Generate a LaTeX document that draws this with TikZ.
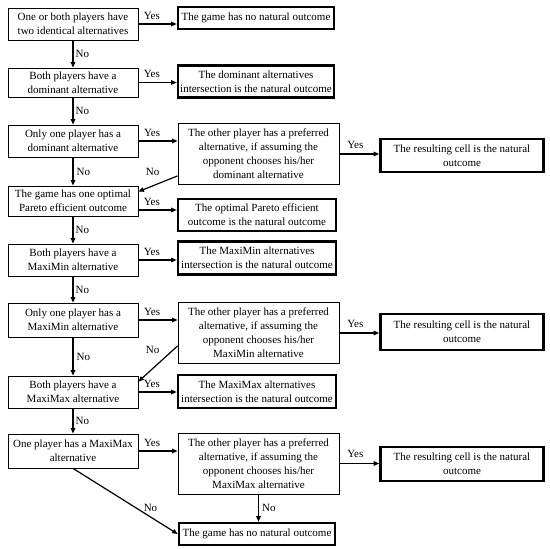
\documentclass[tikz,border=0pt]{standalone}
\usepackage{fontspec}
\setmainfont{Liberation Serif}
\usetikzlibrary{arrows.meta,calc}
\newcommand{\fsz}{\fontsize{11}{14}\selectfont}
\tikzset{
  qbox/.style={draw, line width=0.8pt, align=center, inner sep=0pt, font=\fsz},
  obox/.style={qbox, line width=2.6pt},
  arr/.style={line width=1.2pt, -{Triangle[length=5.5pt,width=4.5pt]}},
  lbl/.style={font=\fsz, inner sep=1pt}
}
\begin{document}
\begin{tikzpicture}[x=1pt,y=-1pt]
\useasboundingbox (0,0) rectangle (550,549);
% left column (x 8--138)
\node[qbox, minimum width=130, minimum height=32] (L1) at (73,24) {One or both players have\\two identical alternatives};
\node[qbox, minimum width=130, minimum height=29] (L2) at (73,82.5) {Both players have a\\dominant alternative};
\node[qbox, minimum width=130, minimum height=32] (L3) at (73,141) {Only one player has a\\dominant alternative};
\node[qbox, minimum width=130, minimum height=30] (L4) at (73,201) {The game has one optimal\\Pareto efficient outcome};
\node[qbox, minimum width=130, minimum height=32] (L5) at (73,260) {Both players have a\\MaxiMin alternative};
\node[qbox, minimum width=130, minimum height=34] (L6) at (73,320) {Only one player has a\\MaxiMin alternative};
\node[qbox, minimum width=130, minimum height=32] (L7) at (73,392) {Both players have a\\MaxiMax alternative};
\node[qbox, minimum width=130, minimum height=34] (L8) at (73,451) {One player has a MaxiMax\\alternative};
% outcomes (x 178--338)
\node[obox, minimum width=156, minimum height=22] (O1) at (256,18) {The game has no natural outcome};
\node[obox, minimum width=156, minimum height=32] (O2) at (256,81.5) {The dominant alternatives\\intersection is the natural outcome};
\node[obox, minimum width=158, minimum height=32] (O4) at (257,215) {The optimal Pareto efficient\\outcome is the natural outcome};
\node[obox, minimum width=158, minimum height=33] (O5) at (257,258) {The MaxiMin alternatives\\intersection is the natural outcome};
\node[obox, minimum width=158, minimum height=33] (O7) at (257,391.5) {The MaxiMax alternatives\\intersection is the natural outcome};
\node[obox, minimum width=156, minimum height=22] (F) at (257,534) {The game has no natural outcome};
% middle boxes
\node[qbox, minimum width=161, minimum height=61] (M3) at (258.5,154) {The other player has a preferred\\alternative, if assuming the\\opponent chooses his/her\\dominant alternative};
\node[qbox, minimum width=161, minimum height=61] (M6) at (258.5,333) {The other player has a preferred\\alternative, if assuming the\\opponent chooses his/her\\MaxiMin alternative};
\node[qbox, minimum width=161, minimum height=61] (M8) at (258.5,463.5) {The other player has a preferred\\alternative, if assuming the\\opponent chooses his/her\\MaxiMax alternative};
% right boxes (x 380--545)
\node[obox, minimum width=163, minimum height=33] (R3) at (462,155.5) {The resulting cell is the natural\\outcome};
\node[obox, minimum width=163, minimum height=36] (R6) at (462,332) {The resulting cell is the natural\\outcome};
\node[obox, minimum width=163, minimum height=34] (R8) at (462,464) {The resulting cell is the natural\\outcome};
% Yes arrows
\draw[arr] (L1.east) -- (L1.east -| O1.west) node[lbl, pos=0.35, above=3pt] {Yes};
\draw[arr] (L2.east) -- (L2.east -| O2.west) node[lbl, pos=0.35, above=3pt] {Yes};
\draw[arr] (L3.east) -- (L3.east -| M3.west) node[lbl, pos=0.35, above=3pt] {Yes};
\draw[arr] ([yshift=-9pt]L4.east) -- ([yshift=-9pt]L4.east -| O4.west) node[lbl, pos=0.35, above=3pt] {Yes};
\draw[arr] (L5.east) -- (L5.east -| O5.west) node[lbl, pos=0.35, above=3pt] {Yes};
\draw[arr] (L6.east) -- (L6.east -| M6.west) node[lbl, pos=0.35, above=3pt] {Yes};
\draw[arr] (L7.east) -- (L7.east -| O7.west) node[lbl, pos=0.35, above=3pt] {Yes};
\draw[arr] (L8.east) -- (L8.east -| M8.west) node[lbl, pos=0.35, above=3pt] {Yes};
\draw[arr] (M3.east) -- (M3.east -| R3.west) node[lbl, pos=0.4, above=4pt] {Yes};
\draw[arr] (M6.east) -- (M6.east -| R6.west) node[lbl, pos=0.4, above=4pt] {Yes};
\draw[arr] (M8.east) -- (M8.east -| R8.west) node[lbl, pos=0.4, above=4pt] {Yes};
% No arrows (vertical)
\draw[arr] (L1.south) -- (L2.north) node[lbl, midway, right=1pt] {No};
\draw[arr] (L2.south) -- (L3.north) node[lbl, midway, right=1pt] {No};
\draw[arr] (L3.south) -- (L4.north) node[lbl, midway, right=2pt] {No};
\draw[arr] (L4.south) -- (L5.north) node[lbl, midway, right=1pt] {No};
\draw[arr] (L5.south) -- (L6.north) node[lbl, midway, right=1pt] {No};
\draw[arr] (L6.south) -- (L7.north) node[lbl, midway, right=2pt] {No};
\draw[arr] (L7.south) -- (L8.north) node[lbl, midway, right=1pt] {No};
\draw[arr] (M8.south) -- (M8.south |- F.north) node[lbl, midway, right=2pt] {No};
% No arrows (diagonal)
\draw[arr] ([yshift=9pt]M3.south west) -- ([yshift=-6pt]L4.north east) node[lbl, at start, xshift=-25pt, yshift=4pt] {No};
\draw[arr] ([yshift=18pt]M6.south west) -- ([yshift=-6pt]L7.north east) node[lbl, at start, xshift=-25pt, yshift=-4pt] {No};
\draw[arr] (L8.south) -- (F.west) node[lbl, pos=0.74, above=4pt] {No};
\end{tikzpicture}
\end{document}
